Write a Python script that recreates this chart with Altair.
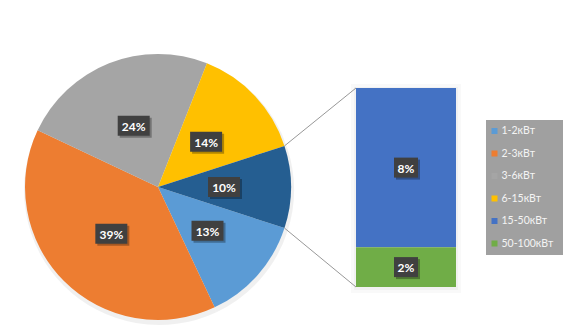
import math
import altair as alt
import pandas as pd

# ---------------- data ----------------
categories = ['1-2кВт', '2-3кВт', '3-6кВт', '6-15кВт', '15-50кВт', '50-100кВт']
shares = [13, 39, 24, 14, 8, 2]
colors = ['#5B9BD5', '#ED7D31', '#A5A5A5', '#FFC000', '#4472C4', '#70AD47']
pie_count = 4                     # first 4 categories in the pie, rest in the bar
other_label = 'Другие'
other_color = '#255E91'
bar_order = [1, 0]                # 15-50 on top, 50-100 at the bottom

pie_df = pd.DataFrame({
    'cat': categories[:pie_count] + [other_label],
    'v': shares[:pie_count] + [sum(shares[pie_count:])],
    'ord': list(range(pie_count + 1)),
})
bar_df = pd.DataFrame({'cat': categories[pie_count:], 'v': shares[pie_count:], 'bord': bar_order})
leg_df = pd.DataFrame({'cat': categories})
one = pd.DataFrame({'k': [0]})

# ---------------- layout ----------------
CX, CY, R = 158, 187, 133
LR = 66
BX0, BX1, BTOP, BBOT = 356, 456, 88, 287
LX0, LY0, LX1, LY1 = 486, 120, 563, 255
total = float(pie_df['v'].sum())
other = float(pie_df['v'].iloc[-1])
START = math.pi / 2 + math.pi * other / total
TWO_PI = 2 * math.pi

color_scale = alt.Scale(domain=categories + [other_label], range=colors + [other_color])
NOSCALE = dict(scale=None)


def label_layers(base):
    b = base.transform_calculate(
        txt="datum.v + '%'",
    ).transform_calculate(
        w='8*length(datum.txt)+8',
    ).transform_calculate(
        x0='datum.px - datum.w/2', x1='datum.px + datum.w/2',
        y0='datum.py - 10', y1='datum.py + 10',
        sx0='datum.px - datum.w/2 + 2', sx1='datum.px + datum.w/2 + 2',
        sy0='datum.py - 8', sy1='datum.py + 12',
    )
    shadow = b.mark_rect(color='#000000', opacity=0.3).encode(
        x=alt.X('sx0:Q', **NOSCALE), x2='sx1:Q', y=alt.Y('sy0:Q', **NOSCALE), y2='sy1:Q')
    box = b.mark_rect(color='#404040').encode(
        x=alt.X('x0:Q', **NOSCALE), x2='x1:Q', y=alt.Y('y0:Q', **NOSCALE), y2='y1:Q')
    txt = b.mark_text(font='Lato', fontWeight='bold', fontSize=12, color='white',
                      align='center', baseline='middle', dy=1).encode(
        x=alt.X('px:Q', **NOSCALE), y=alt.Y('py:Q', **NOSCALE), text='txt:N')
    return [shadow, box, txt]


# ---------------- pie ----------------
pie_base = alt.Chart(pie_df)
theta_enc = alt.Theta('v:Q', stack=True, scale=alt.Scale(range=[START, START + TWO_PI]))

pie_shadow = pie_base.mark_arc(outerRadius=R + 2, color='#000000', opacity=0.06).encode(
    theta=theta_enc, order=alt.Order('ord:Q'), x=alt.value(CX + 1), y=alt.value(CY + 3))
pie = pie_base.mark_arc(outerRadius=R).encode(
    theta=theta_enc,
    color=alt.Color('cat:N', scale=color_scale, legend=None),
    order=alt.Order('ord:Q'),
    x=alt.value(CX), y=alt.value(CY),
)

pie_lab_base = pie_base.transform_window(
    cum='sum(v)', sort=[alt.SortField('ord')], frame=[None, 0]
).transform_joinaggregate(tot='sum(v)').transform_calculate(
    ang=f'{START} + {TWO_PI}*(datum.cum - datum.v/2)/datum.tot'
).transform_calculate(
    px=f'{CX} + {LR}*sin(datum.ang)', py=f'{CY} - {LR}*cos(datum.ang)'
)

# connectors from the "other" slice to the bar
conn_base = pie_base.transform_window(
    cum='sum(v)', sort=[alt.SortField('ord')], frame=[None, 0]
).transform_joinaggregate(tot='sum(v)').transform_filter(
    alt.datum.cat == other_label
).transform_calculate(
    a0=f'{START} + {TWO_PI}*(datum.cum - datum.v)/datum.tot',
    a1=f'{START} + {TWO_PI}*datum.cum/datum.tot',
).transform_calculate(
    tx=f'{CX} + {R}*sin(datum.a0)', ty=f'{CY} - {R}*cos(datum.a0)',
    bx=f'{CX} + {R}*sin(datum.a1)', by=f'{CY} - {R}*cos(datum.a1)',
    ex=f'{BX0}', ety=f'{BTOP}', eby=f'{BBOT}',
)
conn_top = conn_base.mark_rule(color='#989898', strokeWidth=1).encode(
    x=alt.X('tx:Q', **NOSCALE), y=alt.Y('ty:Q', **NOSCALE), x2='ex:Q', y2='ety:Q')
conn_bot = conn_base.mark_rule(color='#989898', strokeWidth=1).encode(
    x=alt.X('bx:Q', **NOSCALE), y=alt.Y('by:Q', **NOSCALE), x2='ex:Q', y2='eby:Q')

# ---------------- bar ----------------
bar_base = alt.Chart(bar_df).transform_stack(
    stack='v', groupby=[], as_=['s0', 's1'], sort=[alt.SortField('bord')]
).transform_joinaggregate(tot='sum(v)')
bar_shadow1 = alt.Chart(one).mark_rect(color='#000000', opacity=0.025).encode(
    x=alt.value(BX0 - 5), x2=alt.value(BX1 + 5), y=alt.value(BTOP - 4), y2=alt.value(BBOT + 6))
bar_shadow2 = alt.Chart(one).mark_rect(color='#000000', opacity=0.03).encode(
    x=alt.value(BX0 - 2), x2=alt.value(BX1 + 2), y=alt.value(BTOP - 1), y2=alt.value(BBOT + 3))
bar = bar_base.mark_rect().encode(
    x=alt.value(BX0), x2=alt.value(BX1),
    y=alt.Y('s0:Q', axis=None,
            scale=alt.Scale(domain=[0, float(bar_df['v'].sum())], range=[BBOT, BTOP], nice=False)),
    y2='s1:Q',
    color=alt.Color('cat:N', scale=color_scale, legend=None),
)
bar_lab_base = bar_base.transform_calculate(
    px=f'{(BX0 + BX1) / 2}',
    py=f'{BBOT} - (datum.s0 + datum.s1)/2/datum.tot*{BBOT - BTOP}',
)

# ---------------- legend ----------------
leg_bg = alt.Chart(one).mark_rect(color='#A0A0A0').encode(
    x=alt.value(LX0), x2=alt.value(LX1), y=alt.value(LY0), y2=alt.value(LY1))
leg_y = alt.Y('cat:N', axis=None,
              scale=alt.Scale(type='point', domain=categories, range=[131, 243.5], padding=0))
leg_sym = alt.Chart(leg_df).mark_square(size=36, opacity=1).encode(
    x=alt.value(494.5), y=leg_y,
    color=alt.Color('cat:N', scale=color_scale, legend=None))
leg_txt = alt.Chart(leg_df).mark_text(font='Lato', fontSize=10.5, color='#F4F4F4',
                                      align='left', baseline='middle').encode(
    x=alt.value(501.5), y=leg_y, text='cat:N')

layers = [pie_shadow, pie, conn_top, conn_bot, bar_shadow1, bar_shadow2, bar]
layers += label_layers(pie_lab_base)
layers += label_layers(bar_lab_base)
layers += [leg_bg, leg_sym, leg_txt]

chart = alt.layer(*layers).resolve_scale(
    x='independent', y='independent', color='independent', theta='independent'
).properties(
    width=567, height=332, padding=0, autosize='none', background='white'
).configure_view(strokeWidth=0)

chart.save("out.html", embed_options={"renderer": "svg", "actions": False})
